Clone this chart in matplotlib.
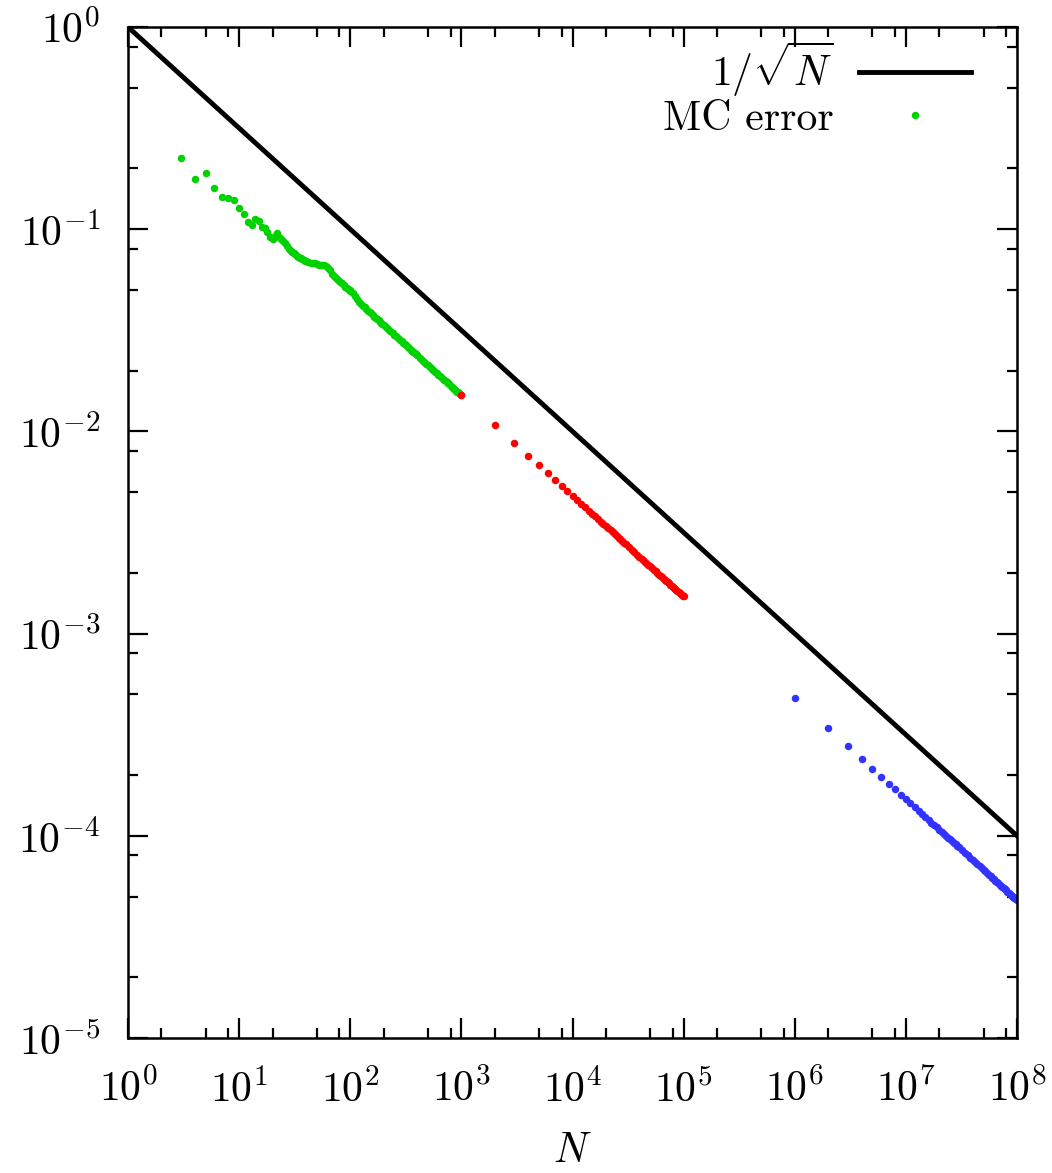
import numpy as np
import matplotlib
matplotlib.use('Agg')
import matplotlib.pyplot as plt
import matplotlib.ticker as ticker

plt.rcParams['mathtext.fontset'] = 'cm'
plt.rcParams['font.family'] = 'cmr10'
plt.rcParams['axes.formatter.use_mathtext'] = True

# reference line 1/sqrt(N)
ref_n = [1, 1e8]
ref_err = [1, 1e-4]

# MC error, small N (green)
green_n = [3, 4, 5, 6, 7, 8, 9, 10, 11, 12, 13, 14, 15, 16, 17, 18, 19, 20, 21, 22,
           23, 24, 25, 26, 27, 28, 29, 30, 31, 32, 33, 34, 35, 36, 37, 38, 39, 40,
           42, 44, 46, 48, 50, 52, 54, 56, 58, 60,
           63, 66, 69, 72, 75, 78, 81, 84, 87, 90, 93, 96, 99,
           100, 105, 110, 115, 120, 125, 130, 135, 140, 145, 150, 155, 160, 165, 170,
           175, 180, 185, 190, 195, 200,
           210, 220, 230, 240, 250, 260, 270, 280, 290, 300, 310, 320, 330, 340, 350,
           360, 370, 380, 390, 400,
           420, 440, 460, 480, 500, 520, 540, 560, 580, 600, 620, 640, 660, 680, 700,
           720, 740, 760, 780, 800, 820, 840, 860, 880, 900, 920, 940, 960, 980, 1000]
green_err = [0.2243, 0.1778, 0.1903, 0.159, 0.1438, 0.143, 0.139, 0.1268, 0.1189, 0.1089,
             0.105, 0.1127, 0.1094, 0.1025, 0.1017, 0.0965, 0.0918, 0.0894, 0.0925, 0.0955,
             0.092, 0.089, 0.087, 0.085, 0.083, 0.080, 0.078, 0.077, 0.076, 0.0752,
             0.074, 0.073, 0.0722, 0.0718, 0.0715, 0.0708, 0.070, 0.0695,
             0.0688, 0.068, 0.0683, 0.0682, 0.0672, 0.0668, 0.0666, 0.0668, 0.0665, 0.066,
             0.0645, 0.0625, 0.0603, 0.059, 0.0576, 0.0562, 0.0551, 0.054, 0.053, 0.052,
             0.0513, 0.0506, 0.050,
             0.0497, 0.0484, 0.0468, 0.0452, 0.0436, 0.0426, 0.0418, 0.041, 0.0402, 0.0396,
             0.039, 0.0383, 0.0376, 0.037, 0.0365, 0.036, 0.0354, 0.0349, 0.0344, 0.034,
             0.0336,
             0.0328, 0.032, 0.0313, 0.0307, 0.0301, 0.0295, 0.0289, 0.0284, 0.0279, 0.0274,
             0.027, 0.0266, 0.0262, 0.0258, 0.0254, 0.025, 0.0247, 0.0244, 0.0241, 0.0238,
             0.0231, 0.0225, 0.022, 0.0216, 0.0212, 0.0208, 0.0204, 0.0201, 0.0197, 0.0194,
             0.0191, 0.0188, 0.0185, 0.0182, 0.018, 0.0177, 0.0175, 0.0173, 0.0171, 0.0168,
             0.0166, 0.0164, 0.0162, 0.0161, 0.0159, 0.0157, 0.0156, 0.0154, 0.0153, 0.0151]

# MC error, N = k thousand (red)
red_k = [1, 2, 3, 4, 5, 6, 7, 8, 9, 10, 11, 12, 13, 14, 15, 16, 17, 18, 19, 20,
         21, 22, 23, 24, 25, 26, 27, 28, 29, 30, 32, 34, 36, 38, 40, 42, 44, 46, 48,
         50, 52, 54, 56, 58, 60, 62, 64, 66, 68, 70, 72, 74, 76, 78, 80, 82, 84, 86,
         88, 90, 92, 94, 96, 98, 100]
red_err = [15.2e-3, 10.7e-3, 8.74e-3, 7.57e-3, 6.79e-3, 6.20e-3, 5.74e-3, 5.37e-3,
           5.06e-3, 4.80e-3, 4.58e-3, 4.38e-3, 4.21e-3, 4.06e-3, 3.92e-3, 3.80e-3,
           3.68e-3, 3.58e-3, 3.48e-3, 3.39e-3, 3.31e-3, 3.24e-3, 3.17e-3, 3.10e-3,
           3.04e-3, 2.98e-3, 2.92e-3, 2.87e-3, 2.82e-3, 2.77e-3, 2.68e-3, 2.60e-3,
           2.53e-3, 2.46e-3, 2.40e-3, 2.34e-3, 2.29e-3, 2.24e-3, 2.19e-3, 2.15e-3,
           2.11e-3, 2.07e-3, 2.03e-3, 1.99e-3, 1.96e-3, 1.93e-3, 1.90e-3, 1.87e-3,
           1.84e-3, 1.82e-3, 1.79e-3, 1.77e-3, 1.74e-3, 1.72e-3, 1.70e-3, 1.68e-3,
           1.66e-3, 1.64e-3, 1.62e-3, 1.60e-3, 1.58e-3, 1.57e-3, 1.55e-3, 1.54e-3,
           1.53e-3]

# MC error, N = k million (blue)
blue_k = [1, 2, 3, 4, 5, 6, 7, 8, 9, 10, 11, 12, 13, 14, 15, 16, 17, 18, 19, 20,
          21, 22, 23, 24, 25, 26, 27, 28, 29, 30, 32, 34, 36, 38, 40, 42, 44, 46, 48,
          50, 52, 54, 56, 58, 60, 62, 64, 66, 68, 70, 72, 74, 76, 78, 80, 82, 84, 86,
          88, 90, 92, 94, 96, 98, 100]
blue_err = [4.80e-4, 3.40e-4, 2.77e-4, 2.40e-4, 2.15e-4, 1.96e-4, 1.81e-4, 1.70e-4,
            1.60e-4, 1.52e-4, 1.45e-4, 1.39e-4, 1.33e-4, 1.28e-4, 1.24e-4, 1.20e-4,
            1.16e-4, 1.13e-4, 1.10e-4, 1.07e-4, 1.05e-4, 1.02e-4, 1.00e-4, 0.980e-4,
            0.960e-4, 0.941e-4, 0.924e-4, 0.907e-4, 0.891e-4, 0.876e-4, 0.849e-4,
            0.823e-4, 0.800e-4, 0.779e-4, 0.759e-4, 0.741e-4, 0.724e-4, 0.708e-4,
            0.693e-4, 0.679e-4, 0.666e-4, 0.653e-4, 0.641e-4, 0.630e-4, 0.620e-4,
            0.610e-4, 0.600e-4, 0.591e-4, 0.582e-4, 0.574e-4, 0.566e-4, 0.558e-4,
            0.551e-4, 0.543e-4, 0.537e-4, 0.530e-4, 0.524e-4, 0.518e-4, 0.512e-4,
            0.506e-4, 0.500e-4, 0.495e-4, 0.490e-4, 0.485e-4, 0.480e-4]

fig = plt.figure(figsize=(10.52, 11.73), dpi=100)
ax = fig.add_axes([128/1052, 1 - 1038/1173, (1017 - 128)/1052, (1038 - 27)/1173])

ax.plot(ref_n, ref_err, color='black', lw=3.5, label=r'$1/\sqrt{N}$')
ms = 5.4
ax.plot(green_n, green_err, 'o', color='#00d200', ms=ms, mew=0, label='MC error')
ax.plot(np.array(red_k) * 1e3, red_err, 'o', color='#ff0000', ms=ms, mew=0)
ax.plot(np.array(blue_k) * 1e6, blue_err, 'o', color='#3333ff', ms=ms, mew=0)

ax.set_xscale('log')
ax.set_yscale('log')
ax.set_xlim(1, 1e8)
ax.set_ylim(1e-5, 1)

# major ticks each decade, minor at 2, 5, 8
ax.xaxis.set_major_locator(ticker.LogLocator(base=10, numticks=20))
ax.yaxis.set_major_locator(ticker.LogLocator(base=10, numticks=20))
ax.xaxis.set_minor_locator(ticker.LogLocator(base=10, subs=[2, 5, 8], numticks=20))
ax.yaxis.set_minor_locator(ticker.LogLocator(base=10, subs=[2, 5, 8], numticks=20))
ax.xaxis.set_minor_formatter(ticker.NullFormatter())
ax.yaxis.set_minor_formatter(ticker.NullFormatter())

ax.tick_params(which='both', direction='in', top=True, right=True, width=1.6,
               labelsize=30)
ax.tick_params(which='major', length=14.5)
ax.tick_params(which='minor', length=7.2)
ax.tick_params(axis='x', which='major', pad=22)
ax.tick_params(axis='y', which='major', pad=20)
for s in ax.spines.values():
    s.set_linewidth(1.8)

ax.set_xlabel(r'$N$', fontsize=30, labelpad=16)

ax.legend(loc='upper right', bbox_to_anchor=(0.9955, 1.0287), markerfirst=False,
          frameon=False, numpoints=1, prop={'family': 'cmr10', 'size': 30},
          handlelength=2.7, handletextpad=0.6, borderaxespad=0.6, labelspacing=0.03)

plt.savefig('out.png', dpi=100)
